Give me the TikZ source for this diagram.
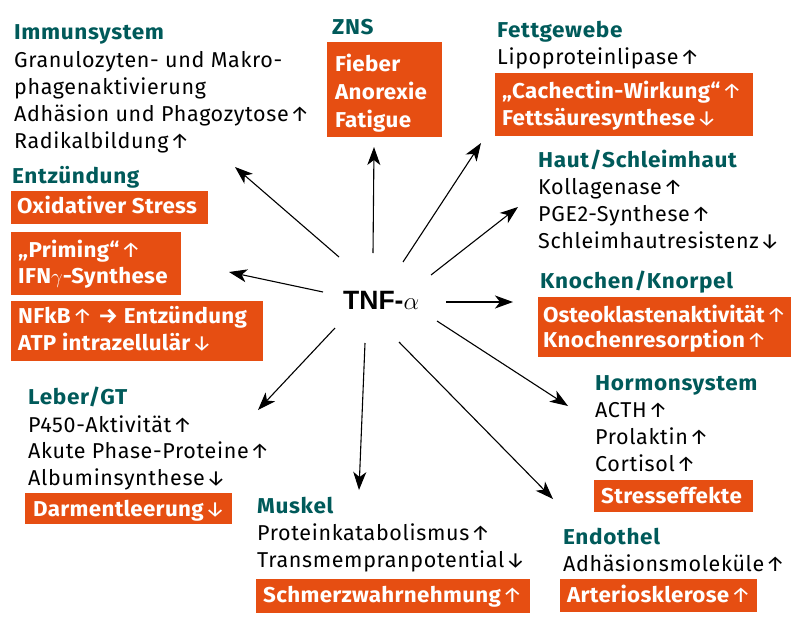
\documentclass[tikz,border=0pt]{standalone}
\usepackage{fontspec}
\setmainfont{Fira Sans}[LetterSpace=3, BoldFeatures={FakeStretch=1.05, LetterSpace=3}]
\newfontfamily\boxfont{Fira Sans}[LetterSpace=1.5, FakeStretch=1.04]
\newfontfamily\boxfonttight{Fira Sans}[LetterSpace=0, FakeStretch=1.04]
\newfontfamily\tnffont{Liberation Sans}
\usetikzlibrary{arrows.meta}
\definecolor{headc}{RGB}{0,90,90}
\definecolor{boxc}{RGB}{230,78,18}
\newcommand{\upa}{\kern1.5pt{\mdseries ↑}}
\newcommand{\dna}{\kern1.5pt{\mdseries ↓}}
\tikzset{
 head/.style={anchor=base west, inner sep=0pt, text=headc, font=\fontsize{21.5}{21.5}\selectfont\bfseries},
 body/.style={anchor=base west, inner sep=0pt, font=\fontsize{21.5}{21.5}\selectfont},
 otext/.style={anchor=base west, inner sep=0pt, text=white, font=\fontsize{21.5}{21.5}\boxfont\bfseries},
 otexttight/.style={otext, font=\fontsize{21.5}{21.5}\boxfonttight\bfseries},
 obox/.style={anchor=north west, fill=boxc, inner sep=0pt, draw=none},
 arr/.style={line width=1.1pt, -{Stealth[length=18pt,width=13pt,inset=5pt]}},
}
\begin{document}
\begin{tikzpicture}[x=1pt,y=-1pt]
\useasboundingbox (0,0) rectangle (800,629);
% ZNS
\node[head] (zns) at (332,34) {ZNS};
\node[obox, minimum width=115pt, minimum height=95pt] (znsbox) at (327,42) {};
\node[otext] (zns1) at (335,71) {Fieber};
\node[otext] (zns2) at (335,99) {Anorexie};
\node[otext] (zns3) at (335,127) {Fatigue};
% Immunsystem
\node[head] (imm) at (14,39) {Immunsystem};
\node[body] (imm1) at (14,67) {Granulozyten- und Makro-};
\node[body] (imm2) at (14,94) {phagenaktivierung};
\node[body] (imm3) at (14,121) {Adhäsion und Phagozytose\upa};
\node[body] (imm4) at (14,148) {Radikalbildung\upa};
% Entzuendung
\node[head] (ent) at (12,183) {Entzündung};
\node[obox, minimum width=197pt, minimum height=33pt] (entbox1) at (11,191) {};
\node[otext] (ent1) at (17,213) {Oxidativer Stress};
\node[obox, minimum width=170pt, minimum height=63pt] (entbox2) at (11,232) {};
\node[otext] (ent2) at (18,257) {„Priming“\upa};
\node[otext] (ent3) at (18,283) {IFN{\mdseries$\gamma$}-Synthese};
\node[obox, minimum width=252pt, minimum height=60pt] (entbox3) at (11,301) {};
\node[otext] (ent4) at (18,323) {NFkB\upa\ → Entzündung};
\node[otext] (ent5) at (18,350) {ATP intrazellulär\dna};
% Leber
\node[head] (leb) at (28,404) {Leber/GT};
\node[body] (leb1) at (28,432) {P450-Aktivität\upa};
\node[body] (leb2) at (28,458) {Akute Phase-Proteine\upa};
\node[body] (leb3) at (28,485) {Albuminsynthese\dna};
\node[obox, minimum width=207pt, minimum height=31pt] (lebbox) at (25,493) {};
\node[otext] (leb4) at (33,516) {Darmentleerung\dna};
% Muskel
\node[head] (mus) at (257,513) {Muskel};
\node[body] (mus1) at (257,540) {Proteinkatabolismus\upa};
\node[body] (mus2) at (257,567) {Transmempranpotential\dna};
\node[obox, minimum width=274pt, minimum height=34pt] (musbox) at (256,579) {};
\node[otext] (mus3) at (263,602) {Schmerzwahrnehmung\upa};
% Fettgewebe
\node[head] (fett) at (497,37) {Fettgewebe};
\node[body] (fett1) at (497,64) {Lipoproteinlipase\upa};
\node[obox, minimum width=258pt, minimum height=63pt] (fettbox) at (495,73) {};
\node[otext] (fett2) at (502,98) {„Cachectin-Wirkung“\upa};
\node[otext] (fett3) at (502,125) {Fettsäuresynthese\dna};
% Haut
\node[head] (haut) at (538,167) {Haut/Schleimhaut};
\node[body] (haut1) at (538,194) {Kollagenase\upa};
\node[body] (haut2) at (538,221) {PGE2-Synthese\upa};
\node[body] (haut3) at (538,248) {Schleimhautresistenz\dna};
% Knochen
\node[head] (kno) at (540,288) {Knochen/Knorpel};
\node[obox, minimum width=253pt, minimum height=60pt] (knobox) at (538,297) {};
\node[otexttight] (kno1) at (543,322) {Osteoklastenaktivität\upa};
\node[otext] (kno2) at (543,347) {Knochenresorption\upa};
% Hormonsystem
\node[head] (hor) at (595,390) {Hormonsystem};
\node[body] (hor1) at (595,417) {ACTH\upa};
\node[body] (hor2) at (595,444) {Prolaktin\upa};
\node[body] (hor3) at (595,471) {Cortisol\upa};
\node[obox, minimum width=159pt, minimum height=32pt] (horbox) at (594,480) {};
\node[otext] (hor4) at (601,503) {Stresseffekte};
% Endothel
\node[head] (endo) at (563,544) {Endothel};
\node[body] (endo1) at (563,571) {Adhäsionsmoleküle\upa};
\node[obox, minimum width=197pt, minimum height=33pt] (endobox) at (560,579) {};
\node[otext] (endo2) at (567,602) {Arteriosklerose\upa};
% TNF
\node[anchor=base west, inner sep=0pt, font=\fontsize{26.5}{26.5}\selectfont] (tnf) at (343,309) {{\tnffont\bfseries TNF-}$\alpha$};
% arrows
\coordinate (s1) at (339,257); \coordinate (e1) at (235,167);
\coordinate (s2) at (373,253); \coordinate (e2) at (374,147);
\coordinate (s3) at (403,262); \coordinate (e3) at (481,143);
\coordinate (s4) at (431,275); \coordinate (e4) at (518,207);
\coordinate (s5) at (446,302); \coordinate (e5) at (513,302);
\coordinate (s6) at (437,321); \coordinate (e6) at (568,406);
\coordinate (s7) at (399,342); \coordinate (e7) at (553,499);
\coordinate (s8) at (365,343); \coordinate (e8) at (359,490);
\coordinate (s9) at (335,328); \coordinate (e9) at (258,410);
\coordinate (s10) at (323,292); \coordinate (e10) at (229,272);
\foreach \i in {1,...,10} {\draw[arr] (s\i) -- (e\i);}
\end{tikzpicture}
\end{document}
